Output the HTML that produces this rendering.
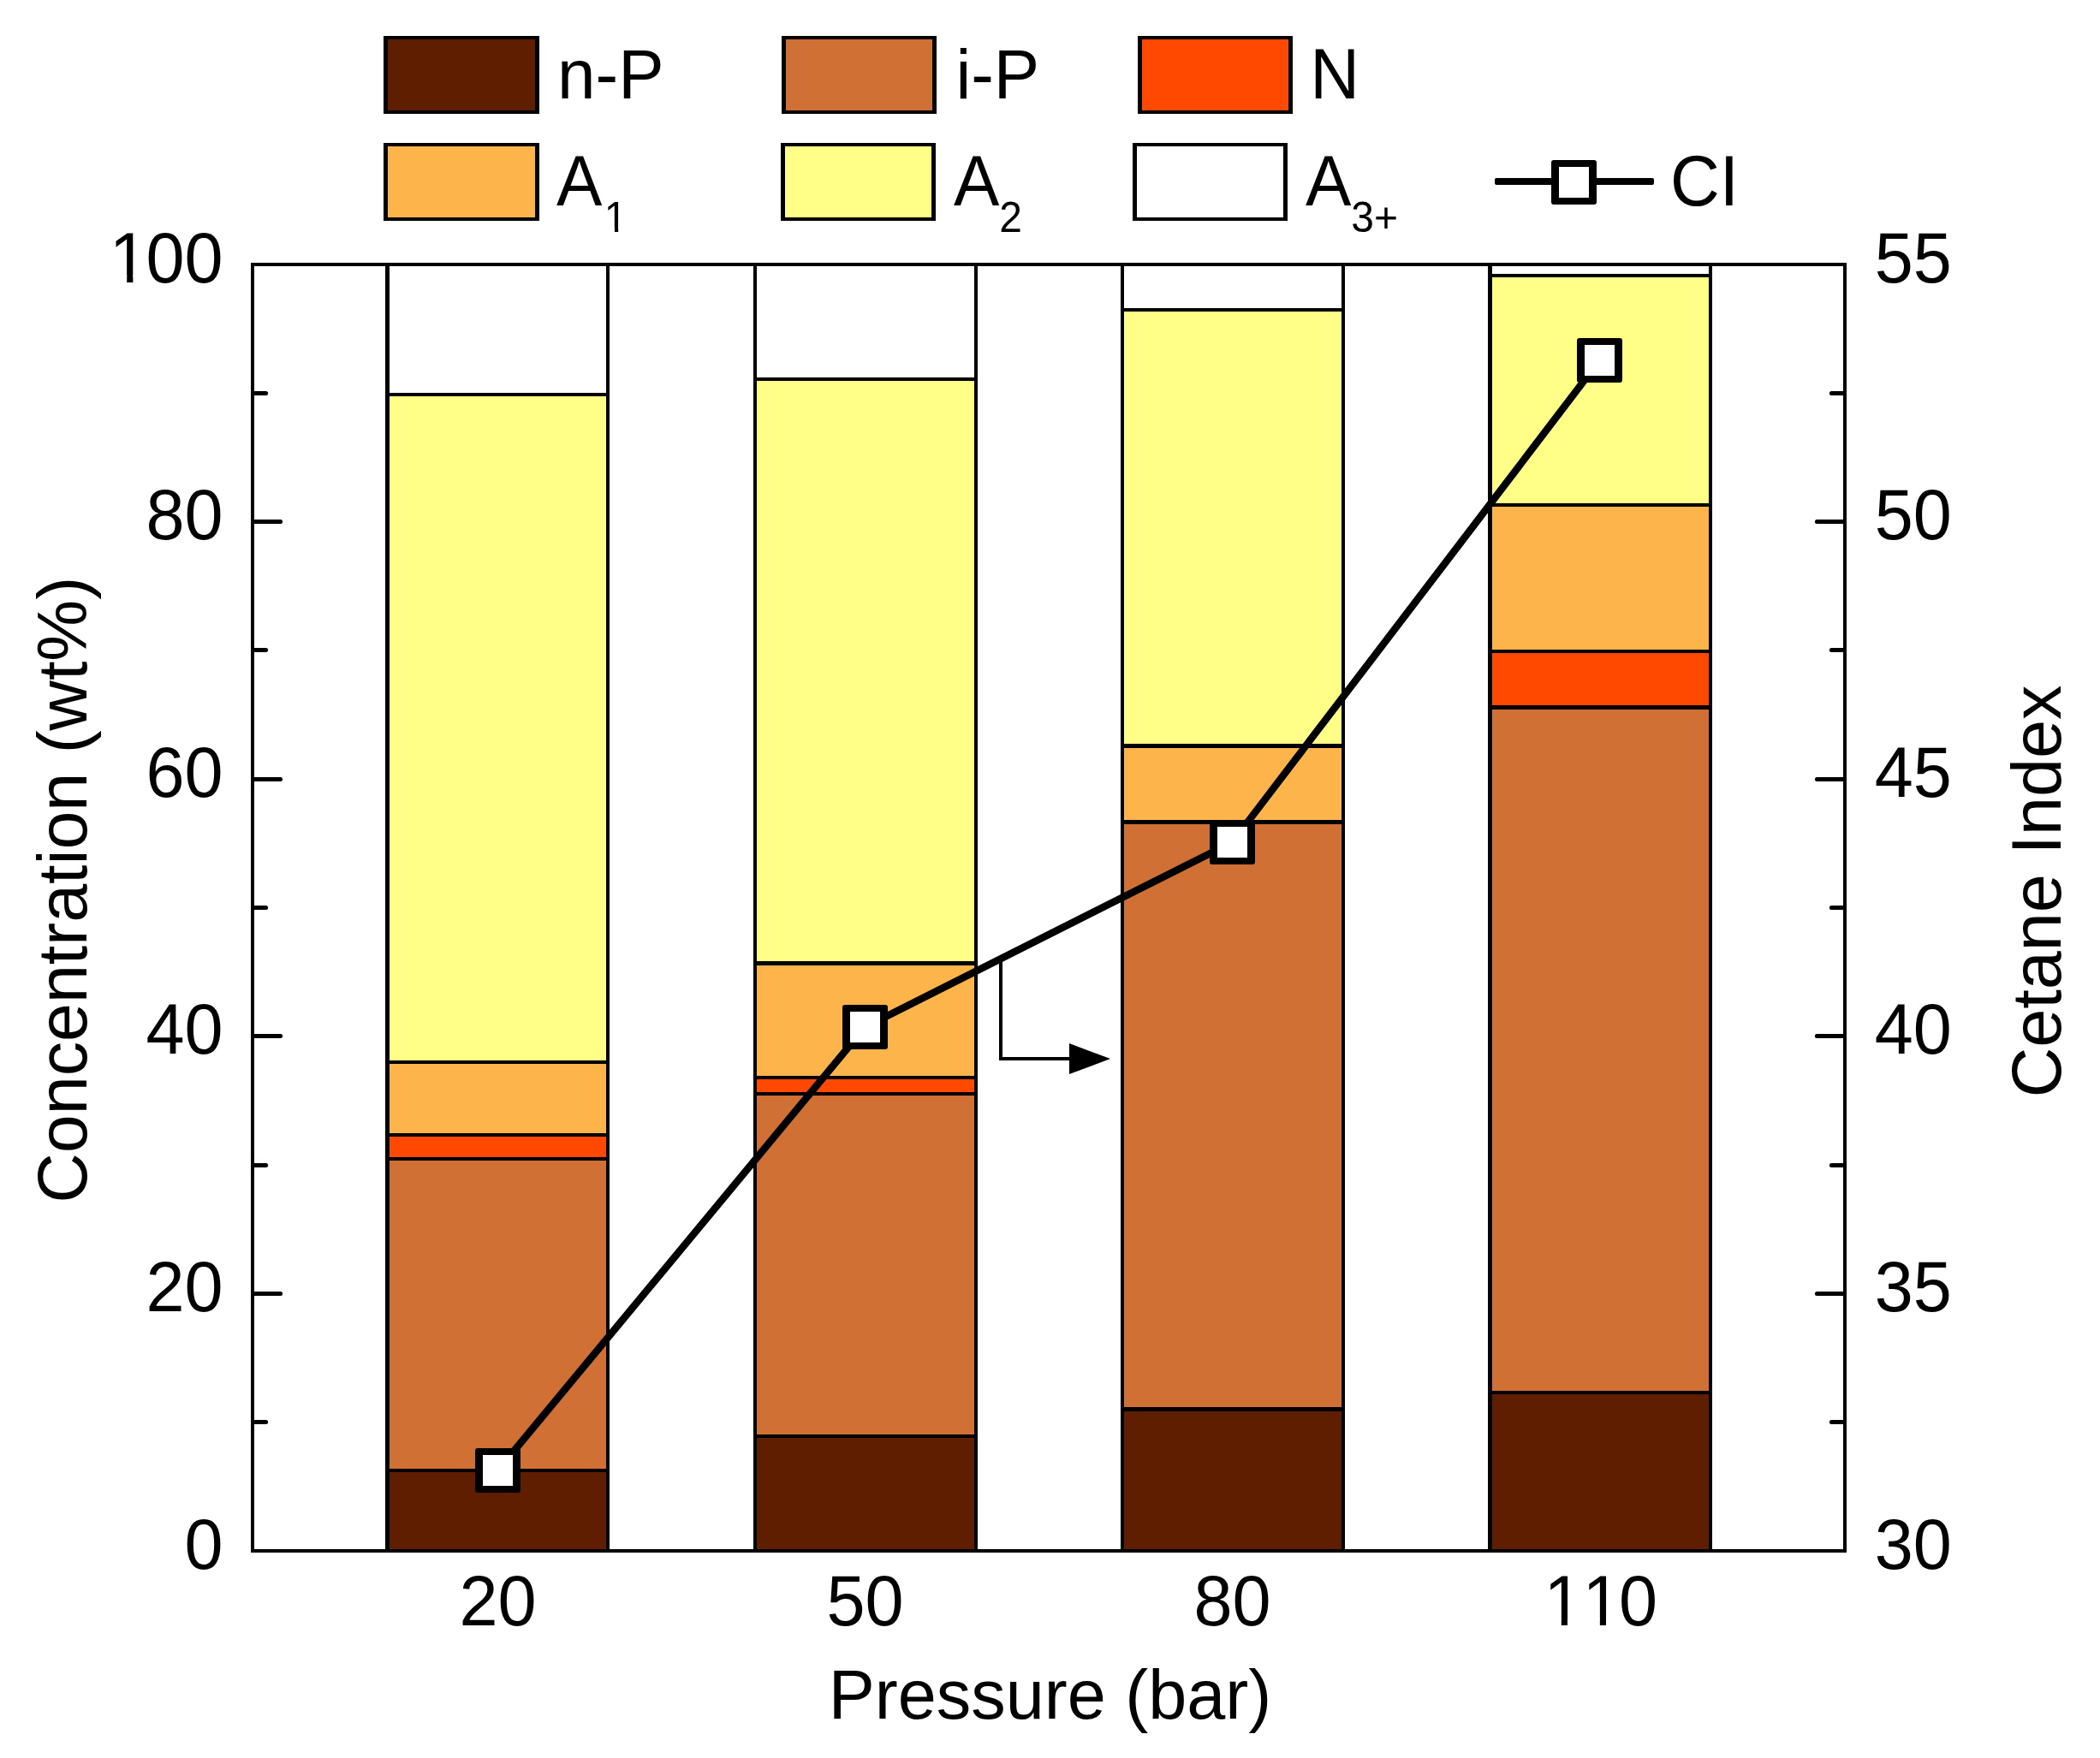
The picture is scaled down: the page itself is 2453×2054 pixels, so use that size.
<!DOCTYPE html>
<html lang="en"><head><meta charset="utf-8"><title>Concentration and Cetane Index vs Pressure</title>
<style>html,body{margin:0;padding:0;background:#fff}svg{display:block}text{font-family:"Liberation Sans",Arial,sans-serif;fill:#000;font-kerning:none;font-variant-ligatures:none}</style>
</head><body>
<svg width="2453" height="2054" viewBox="0 0 2453 2054">
<rect x="0" y="0" width="2453" height="2054" fill="#fff"/>
<g id="bars">
<rect x="450" y="309" width="262" height="1503" fill="#000"/>
<rect x="455" y="1720" width="253" height="90" fill="#5F1E00"/>
<rect x="455" y="1356" width="253" height="360" fill="#D07034"/>
<rect x="455" y="1328" width="253" height="24" fill="#FF4800"/>
<rect x="455" y="1243" width="253" height="81" fill="#FDB44A"/>
<rect x="455" y="463" width="253" height="776" fill="#FFFF88"/>
<rect x="455" y="311" width="253" height="148" fill="#FFFFFF"/>
<rect x="880" y="309" width="262" height="1503" fill="#000"/>
<rect x="884" y="1680" width="254" height="130" fill="#5F1E00"/>
<rect x="884" y="1280" width="254" height="396" fill="#D07034"/>
<rect x="884" y="1261" width="254" height="15" fill="#FF4800"/>
<rect x="884" y="1128" width="254" height="129" fill="#FDB44A"/>
<rect x="884" y="445" width="254" height="678" fill="#FFFF88"/>
<rect x="884" y="311" width="254" height="130" fill="#FFFFFF"/>
<rect x="1309" y="309" width="262" height="1503" fill="#000"/>
<rect x="1313" y="1649" width="254" height="161" fill="#5F1E00"/>
<rect x="1313" y="963" width="254" height="681" fill="#D07034"/>
<rect x="1313" y="874" width="254" height="84" fill="#FDB44A"/>
<rect x="1313" y="364" width="254" height="505" fill="#FFFF88"/>
<rect x="1313" y="311" width="254" height="49" fill="#FFFFFF"/>
<rect x="1738" y="309" width="262" height="1503" fill="#000"/>
<rect x="1743" y="1629" width="253" height="181" fill="#5F1E00"/>
<rect x="1743" y="829" width="253" height="796" fill="#D07034"/>
<rect x="1743" y="763" width="253" height="61" fill="#FF4800"/>
<rect x="1743" y="592" width="253" height="167" fill="#FDB44A"/>
<rect x="1743" y="324" width="253" height="264" fill="#FFFF88"/>
<rect x="1743" y="311" width="253" height="9" fill="#FFFFFF"/>
</g>
<g id="frame" fill="#000">
<rect x="293" y="307" width="4" height="1507"/>
<rect x="2153" y="307" width="4" height="1507"/>
<rect x="293" y="307" width="1864" height="4"/>
<rect x="293" y="1810" width="1864" height="4"/>
</g>
<g id="ticks" stroke="#000" stroke-width="5" stroke-linecap="round">
<line x1="296.0" y1="1661.5" x2="310.6" y2="1661.5"/>
<line x1="2154.0" y1="1661.5" x2="2139.4" y2="1661.5"/>
<line x1="296.0" y1="1511.5" x2="327.6" y2="1511.5"/>
<line x1="2154.0" y1="1511.5" x2="2122.4" y2="1511.5"/>
<line x1="296.0" y1="1361.5" x2="310.6" y2="1361.5"/>
<line x1="2154.0" y1="1361.5" x2="2139.4" y2="1361.5"/>
<line x1="296.0" y1="1210.5" x2="327.6" y2="1210.5"/>
<line x1="2154.0" y1="1210.5" x2="2122.4" y2="1210.5"/>
<line x1="296.0" y1="1060.5" x2="310.6" y2="1060.5"/>
<line x1="2154.0" y1="1060.5" x2="2139.4" y2="1060.5"/>
<line x1="296.0" y1="910.5" x2="327.6" y2="910.5"/>
<line x1="2154.0" y1="910.5" x2="2122.4" y2="910.5"/>
<line x1="296.0" y1="759.5" x2="310.6" y2="759.5"/>
<line x1="2154.0" y1="759.5" x2="2139.4" y2="759.5"/>
<line x1="296.0" y1="609.5" x2="327.6" y2="609.5"/>
<line x1="2154.0" y1="609.5" x2="2122.4" y2="609.5"/>
<line x1="296.0" y1="459.5" x2="310.6" y2="459.5"/>
<line x1="2154.0" y1="459.5" x2="2139.4" y2="459.5"/>
</g>
<g id="arrow" fill="#000">
<rect x="1167" y="1120" width="4" height="119"/>
<rect x="1167" y="1235" width="85" height="4"/>
<polygon points="1249,1219 1249,1255 1297,1237"/>
</g>
<polyline id="ci" points="581.5,1718 1010.5,1200 1439.5,984 1868.5,421" fill="none" stroke="#000" stroke-width="8.5" stroke-linejoin="round" stroke-linecap="round"/>
<g id="markers">
<rect x="555.0" y="1692" width="53" height="52" rx="3" ry="3" fill="#000"/>
<rect x="564.0" y="1700" width="35" height="36" fill="#fff"/>
<rect x="984.0" y="1174" width="53" height="52" rx="3" ry="3" fill="#000"/>
<rect x="993.0" y="1182" width="35" height="36" fill="#fff"/>
<rect x="1413.0" y="958" width="53" height="52" rx="3" ry="3" fill="#000"/>
<rect x="1422.0" y="966" width="35" height="36" fill="#fff"/>
<rect x="1842.0" y="395" width="53" height="52" rx="3" ry="3" fill="#000"/>
<rect x="1851.0" y="403" width="35" height="36" fill="#fff"/>
</g>
<g font-size="81">
<text transform="translate(215.45,1832.50) scale(1,1.04)">0</text>
<text transform="translate(170.40,1531.90) scale(1,1.04)">20</text>
<text transform="translate(170.40,1231.30) scale(1,1.04)">40</text>
<text transform="translate(170.40,930.70) scale(1,1.04)">60</text>
<text transform="translate(170.40,630.10) scale(1,1.04)">80</text>
<text transform="translate(125.35,329.50) scale(1,1.04)" x="2.50 45.05 90.10">100</text>
<text transform="translate(2189.80,1832.50) scale(1,1.04)">30</text>
<text transform="translate(2189.80,1531.90) scale(1,1.04)">35</text>
<text transform="translate(2189.80,1231.30) scale(1,1.04)">40</text>
<text transform="translate(2189.80,930.70) scale(1,1.04)">45</text>
<text transform="translate(2189.80,630.10) scale(1,1.04)">50</text>
<text transform="translate(2189.80,329.50) scale(1,1.04)">55</text>
<text transform="translate(536.45,1899.30) scale(1,1.04)">20</text>
<text transform="translate(965.45,1899.30) scale(1,1.04)">50</text>
<text transform="translate(1394.45,1899.30) scale(1,1.04)">80</text>
<text transform="translate(1800.93,1899.30) scale(1,1.04)" x="2.50 47.55 90.10">110</text>
<text x="1226.5" y="2007.5" text-anchor="middle">Pressure (bar)</text>
<text transform="translate(101,1405.5) rotate(-90)" font-size="80.75">Concentration (wt%)</text>
<text transform="translate(2407,1282.3) rotate(-90)">Cetane Index</text>
</g>
<g id="legend-swatches">
<rect x="448" y="42" width="182" height="91" fill="#000"/>
<rect x="453" y="46" width="172" height="83" fill="#5F1E00"/>
<rect x="913" y="42" width="181" height="91" fill="#000"/>
<rect x="918" y="46" width="171" height="83" fill="#D07034"/>
<rect x="1329" y="42" width="181" height="91" fill="#000"/>
<rect x="1334" y="46" width="171" height="83" fill="#FF4800"/>
<rect x="448" y="167" width="182" height="91" fill="#000"/>
<rect x="453" y="171" width="172" height="83" fill="#FDB44A"/>
<rect x="912" y="167" width="181" height="91" fill="#000"/>
<rect x="917" y="171" width="171" height="83" fill="#FFFF88"/>
<rect x="1323" y="167" width="181" height="91" fill="#000"/>
<rect x="1328" y="171" width="171" height="83" fill="#FFFFFF"/>
</g>
<g font-size="80">
<text transform="translate(651,114.8) scale(1,1.02)">n-P</text>
<text transform="translate(1116.4,114.8) scale(1,1.02)">i-P</text>
<text transform="translate(1530.3,114.8) scale(1,1.04)">N</text>
<text transform="translate(650,239.6) scale(1,1.04)">A<tspan font-size="48" dx="2.5" dy="29.81">1</tspan></text>
<text transform="translate(1114,239.6) scale(1,1.04)">A<tspan font-size="48" dy="29.81">2</tspan></text>
<text transform="translate(1525,239.6) scale(1,1.04)">A<tspan font-size="48" dy="29.81">3+</tspan></text>
<text transform="translate(1951,240) scale(1,1.04)">CI</text>
</g>
<rect x="1746" y="208" width="186" height="8" rx="2" ry="2" fill="#000"/>
<rect x="1812.0" y="187" width="53" height="52" rx="3" ry="3" fill="#000"/>
<rect x="1821.0" y="195" width="35" height="36" fill="#fff"/>
<g fill="#fff" stroke="none"><rect x="131.41" y="321.48" width="16.81" height="10.02"/><rect x="155.38" y="321.48" width="15.98" height="10.02"/><rect x="1806.99" y="1891.28" width="16.81" height="10.02"/><rect x="1830.95" y="1891.28" width="15.98" height="10.02"/><rect x="1852.04" y="1891.28" width="16.81" height="10.02"/><rect x="1876.00" y="1891.28" width="15.98" height="10.02"/><rect x="707.97" y="265.85" width="9.96" height="6.75"/><rect x="722.17" y="265.85" width="9.47" height="6.75"/></g>
</svg>
</body></html>
